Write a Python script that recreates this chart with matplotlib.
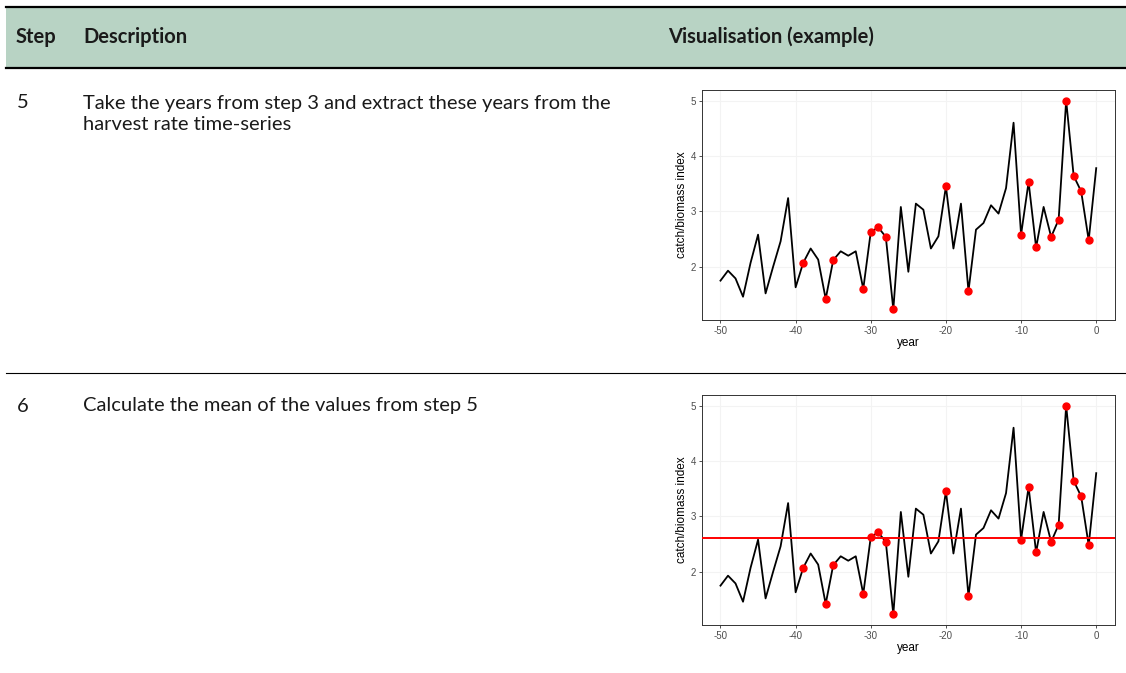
import numpy as np
import matplotlib
matplotlib.use("Agg")
import matplotlib.pyplot as plt
from matplotlib.patches import Rectangle

plt.rcParams["axes.unicode_minus"] = False

# catch/biomass index by year
years = np.arange(-50, 1)
index = [1.75, 1.93, 1.79, 1.46, 2.07, 2.58, 1.52, 2.0, 2.46, 3.24,
         1.63, 2.07, 2.33, 2.13, 1.42, 2.12, 2.28, 2.2, 2.28, 1.6,
         2.63, 2.71, 2.54, 1.23, 3.08, 1.91, 3.14, 3.03, 2.33, 2.55,
         3.45, 2.33, 3.14, 1.56, 2.67, 2.79, 3.11, 2.96, 3.42, 4.6,
         2.58, 3.53, 2.35, 3.08, 2.54, 2.85, 5.0, 3.64, 3.36, 2.48,
         3.78]
# years picked in step 3
picked = [-39, -36, -35, -31, -30, -29, -28, -27, -20, -17,
          -10, -9, -8, -6, -5, -4, -3, -2, -1]

header = ["Step", "Description", "Visualisation (example)"]
rows = [("5", ["Take the years from step 3 and extract these years from the",
               "harvest rate time-series"]),
        ("6", ["Calculate the mean of the values from step 5"])]

index = np.array(index)
pick_vals = index[np.isin(years, picked)]
mean_val = pick_vals.mean()

W, H = 1126, 673
fig = plt.figure(figsize=(W / 100, H / 100), dpi=100)

# table background drawn in pixel coordinates
bg = fig.add_axes([0, 0, 1, 1])
bg.set_xlim(0, W)
bg.set_ylim(H, 0)
bg.axis("off")
bg.add_patch(Rectangle((6, 7), W - 6, 61, color="#b8d3c4", lw=0))
bg.plot([6, W], [6.5, 6.5], color="black", lw=1.6)
bg.plot([6, W], [68, 68], color="black", lw=1.6)
bg.plot([6, W], [373, 373], color="black", lw=0.8)

tfont = ["Lato", "DejaVu Sans"]
for xpos, txt in zip([16, 83, 668], header):
    bg.text(xpos, 37, txt, fontsize=14.5, fontweight="bold", family=tfont,
            va="center", ha="left", color="#1a1a1a")
for (num, lines), ytop in zip(rows, [103, 406]):
    bg.text(17, ytop, num, fontsize=14.5, family=tfont, va="center", color="#1a1a1a")
    for k, ln in enumerate(lines):
        bg.text(83, ytop + 21 * k, ln, fontsize=14.5, family=tfont,
                va="center", color="#1a1a1a")


def draw_chart(ax, show_mean):
    ax.set_facecolor("white")
    ax.plot(years, index, color="black", lw=1.3, zorder=3)
    ax.plot(years[np.isin(years, picked)], pick_vals, "o", color="#ff0000",
            ms=5, mec="#ff0000", zorder=4)
    if show_mean:
        ax.axhline(mean_val, color="#ff0000", lw=1.4, zorder=5)
    ax.set_xlim(-52.5, 2.5)
    ax.set_ylim(1.04, 5.19)
    ax.set_xticks([-50, -40, -30, -20, -10, 0])
    ax.set_yticks([2, 3, 4, 5])
    ax.grid(True, color="#f3f3f3", lw=0.8)
    ax.set_axisbelow(True)
    for s in ax.spines.values():
        s.set_color("#333333")
        s.set_linewidth(0.7)
    ax.tick_params(length=2.5, width=0.6, color="#333333", labelcolor="#4d4d4d",
                   labelsize=7, pad=1.5)
    for lab in ax.get_xticklabels() + ax.get_yticklabels():
        lab.set_family("Liberation Sans")
    ax.set_xlabel("year", fontsize=8.5, family="Liberation Sans", labelpad=1)
    ax.set_ylabel("catch/biomass index", fontsize=8.5, family="Liberation Sans",
                  labelpad=2)


ax1 = fig.add_axes([701.7 / W, 1 - 320 / H, 413.3 / W, 230 / H])
draw_chart(ax1, False)
ax2 = fig.add_axes([701.7 / W, 1 - 625 / H, 413.3 / W, 230 / H])
draw_chart(ax2, True)

fig.savefig("out.png", dpi=100)
